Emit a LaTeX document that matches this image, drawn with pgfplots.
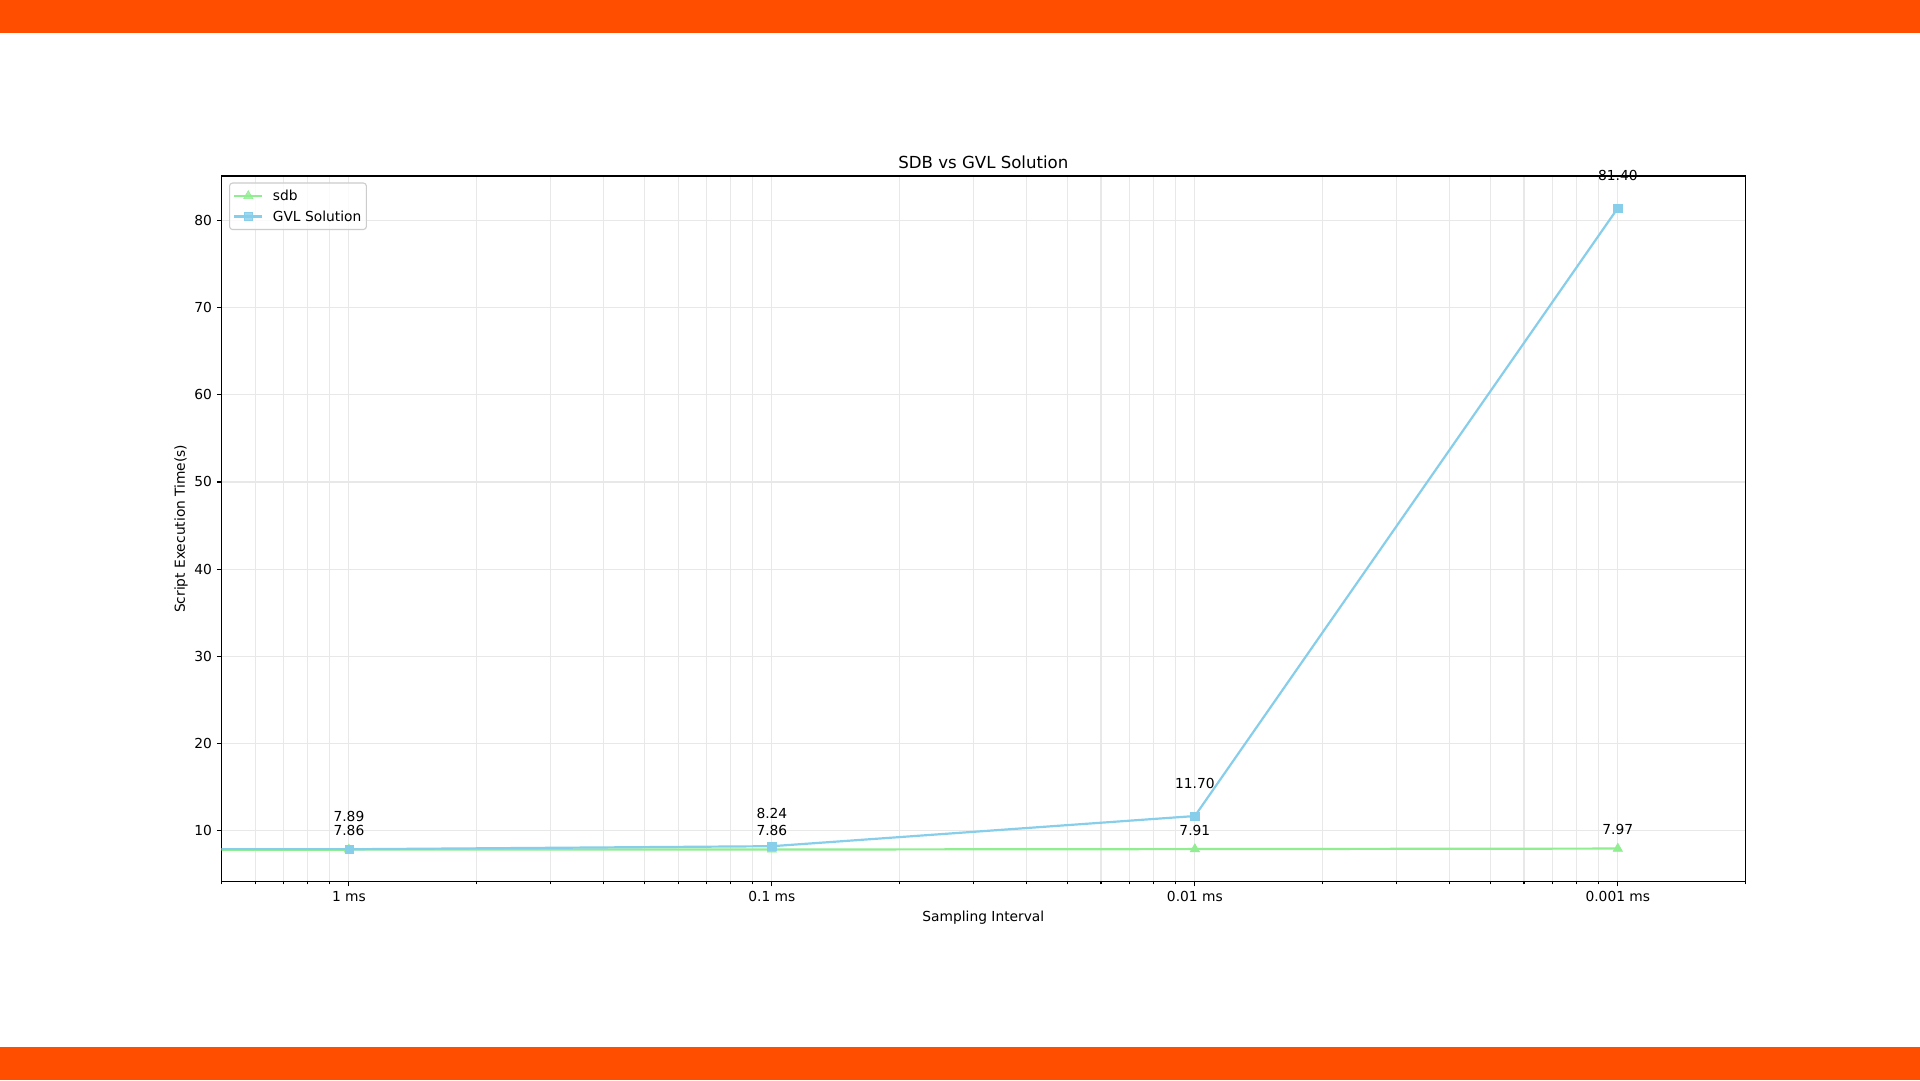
\documentclass[border=0pt]{standalone}
\usepackage{fontspec}
\setmainfont{DejaVu Sans}
\usepackage{pgfplots}
\pgfplotsset{compat=1.18}
\definecolor{orangebar}{RGB}{255,78,0}
\definecolor{sdbgreen}{HTML}{90EE90}
\definecolor{gvlblue}{HTML}{87CEEB}
\definecolor{gridgray}{RGB}{232,232,232}
\newcommand\lbl{\fontsize{13.8pt}{16pt}\selectfont}
\newcommand\ttl{\fontsize{16.6pt}{19pt}\selectfont}
\begin{document}
\begin{tikzpicture}
\fill[white] (0pt,0pt) rectangle (1920pt,1080pt);
\fill[orangebar] (0pt,1047pt) rectangle (1920pt,1080pt);
\fill[orangebar] (0pt,0pt) rectangle (1920pt,33pt);
\begin{axis}[
  at={(221.6pt,198.4pt)}, anchor=south west,
  scale only axis, width=1523.4pt, height=705.6pt,
  xmode=log, xmin=0.5, xmax=2000,
  ymin=4.183, ymax=85.077,
  xtick={1,10,100,1000},
  xticklabels={1 ms,0.1 ms,0.01 ms,0.001 ms},
  minor xtick={0.5,0.6,0.7,0.8,0.9,2,3,4,5,6,7,8,9,20,30,40,50,60,70,80,90,200,300,400,500,600,700,800,900,2000},
  ytick={10,20,30,40,50,60,70,80},
  minor y tick num=0,
  /pgf/number format/assume math mode=true,
  tick pos=left, tick align=outside,
  major tick length=4.8pt, minor tick length=2.8pt,
  every tick/.style={black, line width=1.1pt},
  axis line style={black, line width=1.1pt},
  grid=both,
  major grid style={gridgray, line width=1.1pt},
  minor grid style={gridgray, line width=1.1pt},
  ticklabel style={font=\lbl, text=black},
  xticklabel style={anchor=base, inner sep=0pt, yshift=-15.5pt},
  yticklabel style={anchor=east, inner sep=0pt, xshift=-4.8pt},
  title={SDB vs GVL Solution},
  title style={font=\ttl, at={(axis description cs:0.5,1.01176)}, anchor=base, inner sep=0pt, yshift=-7pt},
  xlabel={Sampling Interval},
  xlabel style={font=\lbl, at={(axis description cs:0.5,-0.05598)}, anchor=base, inner sep=0pt},
  ylabel={Script Execution Time(s)},
  ylabel style={font=\lbl, at={(axis description cs:-0.02403,0.5)}, anchor=base, inner sep=0pt},
  legend style={at={(axis description cs:0.00486,0.9908)}, anchor=north west,
    draw=black!20, line width=1.1pt, rounded corners=3pt, fill=white, fill opacity=0.8, text opacity=1,
    font=\lbl, inner xsep=3.6pt, inner ysep=5.5pt, row sep=5.5pt, column sep=8pt,
    nodes={inner sep=1.5pt}},
  legend cell align=left,
  legend image code/.code={\draw[mark repeat=2,mark phase=2,#1] plot coordinates {(0pt,0pt) (14pt,0pt) (28pt,0pt)};},
  every node near coord/.append style={font=\lbl, text=black, anchor=base, inner sep=0pt},
]
\addplot[sdbgreen, line width=2.2pt, mark=triangle*, mark size=5.4pt, mark options={fill=sdbgreen, draw=sdbgreen, line width=0.5pt},
  point meta=explicit symbolic, nodes near coords,
  every node near coord/.append style={yshift=13.8pt}]
  coordinates {(1,7.86) [7.86] (10,7.86) [7.86] (100,7.91) [7.91] (1000,7.97) [7.97]};
\addlegendentry{sdb}
\addplot[sdbgreen, line width=2.2pt, no marks, forget plot]
  coordinates {(0.1,7.86) (1,7.86)};
\addplot[gvlblue, line width=2.2pt, mark=square*, mark size=4.15pt, mark options={fill=gvlblue, draw=gvlblue, line width=0.5pt},
  point meta=explicit symbolic, nodes near coords,
  every node near coord/.append style={yshift=27.6pt}]
  coordinates {(1,7.89) [7.89] (10,8.24) [8.24] (100,11.70) [11.70] (1000,81.40) [81.40]};
\addlegendentry{GVL Solution}
\addplot[gvlblue, line width=2.2pt, no marks, forget plot]
  coordinates {(0.1,7.89) (1,7.89)};
\end{axis}
\end{tikzpicture}
\end{document}
